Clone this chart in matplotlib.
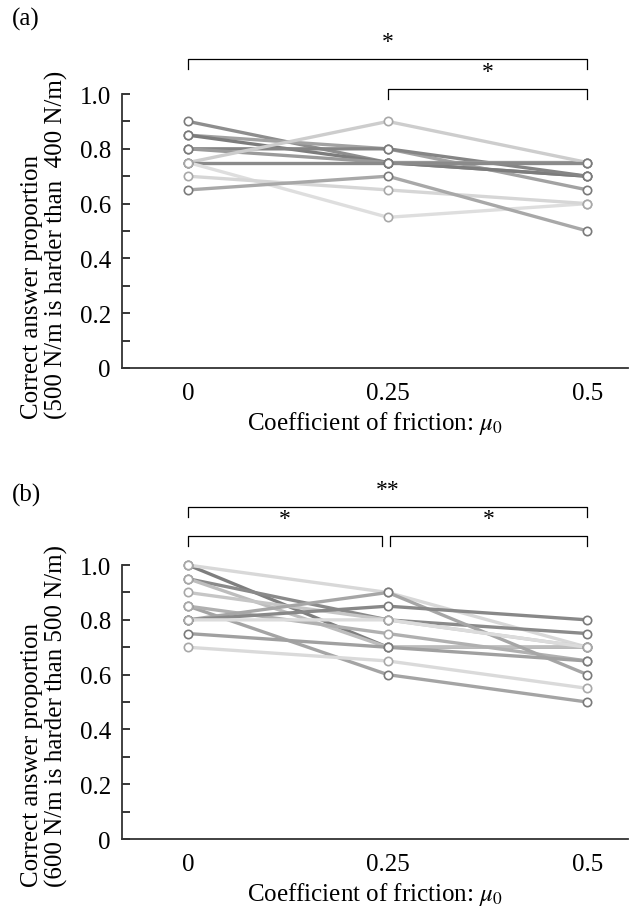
import numpy as np
import matplotlib
matplotlib.use("Agg")
import matplotlib.pyplot as plt

plt.rcParams["font.family"] = ["Liberation Serif", "DejaVu Serif"]
plt.rcParams["mathtext.fontset"] = "stix"

# friction levels
mu = [0, 0.25, 0.5]

# (a) 500 N/m vs 400 N/m, one row per participant
prop_a = [
    [0.90, 0.75, 0.70],
    [0.85, 0.80, 0.65],
    [0.85, 0.75, 0.70],
    [0.80, 0.80, 0.70],
    [0.80, 0.75, 0.75],
    [0.75, 0.90, 0.75],
    [0.75, 0.75, 0.75],
    [0.75, 0.55, 0.60],
    [0.70, 0.65, 0.60],
    [0.65, 0.70, 0.50],
]
gray_a = ["#8e8e8e", "#a2a2a2", "#7c7c7c", "#858585", "#9a9a9a",
          "#cdcdcd", "#8a8a8a", "#dedede", "#d6d6d6", "#a8a8a8"]

# (b) 600 N/m vs 500 N/m
prop_b = [
    [1.00, 0.70, 0.70],
    [1.00, 0.90, 0.70],
    [0.95, 0.80, 0.75],
    [0.95, 0.70, 0.70],
    [0.90, 0.80, 0.70],
    [0.85, 0.60, 0.50],
    [0.85, 0.75, 0.65],
    [0.80, 0.90, 0.60],
    [0.80, 0.85, 0.80],
    [0.80, 0.80, 0.70],
    [0.75, 0.70, 0.65],
    [0.70, 0.65, 0.55],
]
gray_b = ["#7e7e7e", "#d8d8d8", "#8a8a8a", "#bdbdbd", "#c6c6c6", "#a4a4a4",
          "#b0b0b0", "#a6a6a6", "#888888", "#dcdcdc", "#a0a0a0", "#dadada"]

# significance brackets: (x0, x1, label, y of bar)
sig_a = [(0, 0.5, "*", 1.128), (0.25, 0.5, "*", 1.018)]
sig_b = [(0, 0.5, "**", 1.212), (0, 0.2425, "*", 1.106), (0.2525, 0.5, "*", 1.106)]

ylabels = ["Correct answer proportion\n(500 N/m is harder than  400 N/m)",
           "Correct answer proportion\n(600 N/m is harder than 500 N/m)"]

FS = 18

fig = plt.figure(figsize=(6.32, 9.12), dpi=100)
ax_a = fig.add_axes([0.193, 0.5954, 0.801, 0.3004])
ax_b = fig.add_axes([0.193, 0.0789, 0.801, 0.3004])


def draw(ax, data, grays, sig, ylab):
    for vals, c in zip(data, grays):
        ax.plot(mu, vals, color=c, lw=2.4, zorder=2, clip_on=False,
                solid_capstyle="round")
    for vals, c in zip(data, grays):
        ax.plot(mu, vals, ls="none", marker="o", ms=6, mfc="white",
                mec="#7a7a7a" if c < "#b0b0b0" else "#a8a8a8", mew=1.2,
                zorder=3, clip_on=False)
    ax.set_xlim(-0.083, 0.551)
    ax.set_ylim(0, 1.0)
    ax.set_yticks(np.arange(0, 1.01, 0.2))
    ax.set_yticks(np.arange(0.1, 1.0, 0.2), minor=True)
    ax.set_yticklabels(["0", "0.2", "0.4", "0.6", "0.8", "1.0"])
    ax.set_xticks(mu)
    ax.set_xticklabels(["0", "0.25", "0.5"])
    ax.tick_params(axis="y", which="both", direction="in", length=6,
                   width=1.1, labelsize=FS, pad=8)
    ax.tick_params(axis="x", length=0, labelsize=FS, pad=10)
    for s in ("top", "right"):
        ax.spines[s].set_visible(False)
    for s in ("left", "bottom"):
        ax.spines[s].set_linewidth(1.3)
        ax.spines[s].set_color("#333333")
    ax.set_ylabel(ylab, fontsize=FS, linespacing=1.1, multialignment="left")
    ax.yaxis.set_label_coords(-0.107, 0.452)
    ax.set_xlabel("Coefficient of friction: $\\mu_0$", fontsize=FS,
                  labelpad=4)
    for x0, x1, lab, yb in sig:
        leg = 0.037
        ax.plot([x0, x0, x1, x1], [yb - leg, yb, yb, yb - leg], color="black",
                lw=0.9, clip_on=False)
        ax.text((x0 + x1) / 2, yb + 0.025, lab, ha="center", va="bottom",
                fontsize=FS - 1)


draw(ax_a, prop_a, gray_a, sig_a, ylabels[0])
draw(ax_b, prop_b, gray_b, sig_b, ylabels[1])
fig.text(0.019, 0.979, "(a)", fontsize=FS, va="center", ha="left")
fig.text(0.019, 0.457, "(b)", fontsize=FS, va="center", ha="left")

fig.savefig("out.png", dpi=100)
